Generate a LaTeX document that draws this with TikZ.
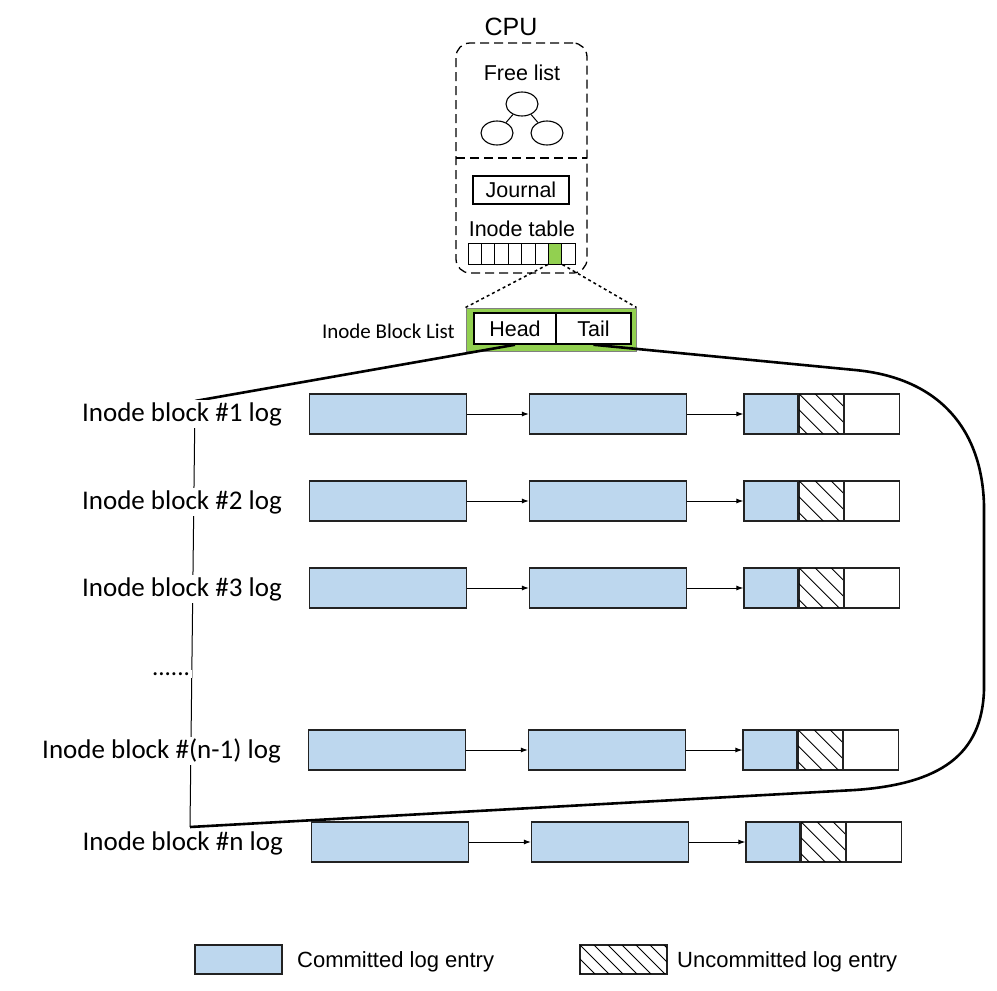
\documentclass[tikz,border=0pt]{standalone}
\usepackage{fontspec}
\setmainfont{Carlito}
\newfontfamily\arial{Liberation Sans}
\usetikzlibrary{shapes.geometric,arrows.meta}
\definecolor{cblue}{HTML}{BDD7EE}
\definecolor{cgreen}{HTML}{92D050}
\definecolor{edge}{HTML}{222222}
\tikzset{
  cbox/.style={draw=edge, line width=1.2pt, fill=cblue, minimum height=40pt, inner sep=0pt},
  wbox/.style={draw=edge, line width=1.2pt, fill=white, minimum height=40pt, inner sep=0pt},
  arr/.style={line width=1pt, -{Latex[length=7pt,width=5pt]}},
  thickln/.style={line width=2.6pt, line join=round},
  lbl/.style={font=\fontsize{27}{30}\selectfont, fill=white, inner sep=2pt, anchor=east},
  cputxt/.style={font=\arial\fontsize{21.5}{24}\selectfont, inner sep=0pt},
  legtxt/.style={font=\arial\fontsize{22}{24}\selectfont, inner sep=0pt},
  hatchln/.style={line width=0.9pt},
  dotln/.style={line width=1.5pt, dash pattern=on 3pt off 3pt},
}
\begin{document}
\begin{tikzpicture}[x=1pt,y=-1pt]
\useasboundingbox (0,0) rectangle (997,991);

% ---- CPU part ----
\node[cputxt, font=\arial\fontsize{25}{28}\selectfont] (cpulbl) at (511,27) {CPU};
\node[draw, line width=1.3pt, dash pattern=on 9pt off 5pt, rounded corners=14pt,
      minimum width=131pt, minimum height=230pt, inner sep=0pt] (cpu) at (521.5,158) {};
\coordinate (dl) at (456,158);
\coordinate (dr) at (587,158);
\draw[line width=1.3pt, dash pattern=on 9pt off 5pt] (dl) -- (dr);
\node[cputxt] (free) at (522,73) {Free list};
\node[draw, ellipse, line width=1.1pt, minimum width=32pt, minimum height=24pt, inner sep=0pt] (t0) at (522,104) {};
\node[draw, ellipse, line width=1.1pt, minimum width=32pt, minimum height=24pt, inner sep=0pt] (t1) at (497,133) {};
\node[draw, ellipse, line width=1.1pt, minimum width=32pt, minimum height=24pt, inner sep=0pt] (t2) at (547,133) {};
\draw[line width=1pt] (t0) -- (t1);
\draw[line width=1pt] (t0) -- (t2);
\node[draw, line width=1.1pt, minimum width=96pt, minimum height=28pt, inner sep=0pt, font=\arial\fontsize{21.5}{24}\selectfont] (journal) at (521,190) {Journal};
\node[cputxt] (itab) at (522,229) {Inode table};
\foreach \i in {0,...,7}{
  \ifnum\i=6
    \node[draw, line width=1pt, fill=cgreen, minimum width=13.4pt, minimum height=21pt, inner sep=0pt] (cell\i) at (468+13.4*\i+6.7,253.5) {};
  \else
    \node[draw, line width=1pt, fill=white, minimum width=13.4pt, minimum height=21pt, inner sep=0pt] (cell\i) at (468+13.4*\i+6.7,253.5) {};
  \fi
}

% ---- Inode block list ----
\node[fill=cgreen, draw=gray, line width=1pt, minimum width=170pt, minimum height=43pt, inner sep=0pt] (ibl) at (551,329.5) {};
\node[draw=black, line width=1.5pt, fill=white, minimum width=82pt, minimum height=31pt, inner sep=0pt, font=\arial\fontsize{21.5}{24}\selectfont] (head) at (515,328.5) {Head};
\node[draw=black, line width=1.5pt, fill=white, minimum width=75pt, minimum height=31pt, inner sep=0pt, font=\arial\fontsize{21.5}{24}\selectfont] (tail) at (593.5,328.5) {Tail};
\node[font=\fontsize{21}{24}\selectfont, anchor=east, inner sep=0pt] (ibllbl) at (455,331) {Inode Block List};
\draw[dotln] (cell6.south west) -- (ibl.north west);
\draw[dotln] (cell6.south east) -- (ibl.north east);

% ---- connector lines ----
\coordinate (p1) at (195,401);
\coordinate (p2) at (190,827);
\coordinate (q1) at (855,790);
\coordinate (q2) at (984,690);
\coordinate (q3) at (984,505);
\coordinate (q4) at (855,370);
\draw[line width=1pt] (p1) -- (p2);
\draw[thickln] (head.south) -- (p1);
\draw[thickln] (p2) -- (q1) .. controls (940,784) and (982,755) .. (q2) -- (q3)
   .. controls (982,430) and (940,378) .. (q4) -- (tail.south);

% ---- rows ----
\foreach \r/\y/\dx in {1/414/0, 2/501/0, 3/588/0, 4/750/-1, 5/842/2}{
  \node[cbox, minimum width=157pt] (a\r) at (388+\dx,\y) {};
  \node[cbox, minimum width=157pt] (b\r) at (608+\dx,\y) {};
  \node[cbox, minimum width=54pt] (c\r) at (771+\dx,\y) {};
  \node[wbox, minimum width=44pt, anchor=west] (d\r) at (c\r.east) {};
  \node[wbox, minimum width=55pt, anchor=west] (e\r) at (d\r.east) {};
  \begin{scope}
    \clip (d\r.north west) rectangle (d\r.south east);
    \foreach \k in {-32,-16,...,44}{
      \draw[hatchln] ([xshift=\k pt]d\r.north west) -- ++(50,50);
    }
  \end{scope}
  \draw[line width=1.2pt, draw=edge] (d\r.north west) rectangle (d\r.south east);
  \draw[arr] (a\r) -- (b\r);
  \draw[arr] (b\r) -- (c\r);
}

% ---- labels ----
\node[lbl] (l1) at (284,414) {Inode block \#1 log};
\node[lbl] (l2) at (284,502) {Inode block \#2 log};
\node[lbl] (l3) at (284,589) {Inode block \#3 log};
\node[lbl, font=\fontsize{25}{28}\selectfont, anchor=center] (ldots) at (171,674) {......};
\node[lbl] (l4) at (283,751) {Inode block \#(n-1) log};
\node[lbl] (l5) at (285,843) {Inode block \#n log};

% ---- legend ----
\node[cbox, minimum width=87pt, minimum height=29pt] (legc) at (238.5,959.5) {};
\node[legtxt, anchor=west] (legctxt) at (297,962) {Committed log entry};
\node[wbox, minimum width=87pt, minimum height=29pt] (legu) at (623.5,959.5) {};
\begin{scope}
  \clip (legu.north west) rectangle (legu.south east);
  \foreach \k in {-28,-14,...,90}{
    \draw[hatchln] ([xshift=\k pt]legu.north west) -- ++(40,40);
  }
\end{scope}
\draw[line width=1.2pt, draw=edge] (legu.north west) rectangle (legu.south east);
\node[legtxt, anchor=west] (legutxt) at (677,962) {Uncommitted log entry};
\end{tikzpicture}
\end{document}
